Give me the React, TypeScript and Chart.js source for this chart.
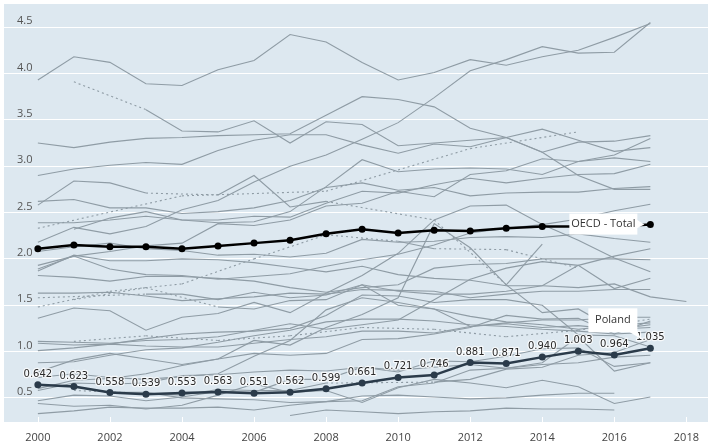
import { useEffect, useRef } from "react";
import { Chart, registerables } from "chart.js";

Chart.register(...registerables);

// Gross domestic spending on R&D, % of GDP
const YEARS = [2000, 2001, 2002, 2003, 2004, 2005, 2006, 2007, 2008, 2009, 2010, 2011, 2012, 2013, 2014, 2015, 2016, 2017, 2018];
const TICK_YEARS = [2000, 2002, 2004, 2006, 2008, 2010, 2012, 2014, 2016, 2018];
const Y_TICKS = [0.5, 1.0, 1.5, 2.0, 2.5, 3.0, 3.5, 4.0, 4.5];

const POLAND = [0.642, 0.623, 0.558, 0.539, 0.553, 0.563, 0.551, 0.562, 0.599, 0.661, 0.721, 0.746, 0.881, 0.871, 0.94, 1.003, 0.964, 1.035, null];
const OECD_TOTAL = [2.11, 2.15, 2.13, 2.13, 2.11, 2.14, 2.17, 2.2, 2.27, 2.32, 2.28, 2.31, 2.3, 2.33, 2.35, 2.35, 2.35, 2.37, null];

const AUSTRALIA = [1.48, null, 1.65, null, 1.73, null, 2.0, null, 2.26, null, 2.19, 2.11, null, 2.1, null, 1.9, null, null, null];
const AUSTRIA = [1.89, 2.03, 2.08, 2.14, 2.17, 2.38, 2.36, 2.42, 2.57, 2.6, 2.73, 2.67, 2.91, 2.95, 3.08, 3.05, 3.12, 3.3, null];
const BELGIUM = [1.93, 2.03, 1.89, 1.83, 1.82, 1.78, 1.81, 1.84, 1.92, 1.99, 2.05, 2.15, 2.28, 2.33, 2.37, 2.43, 2.52, 2.59, null];
const CANADA = [1.87, 2.04, 1.98, 1.98, 2.0, 1.99, 1.96, 1.91, 1.86, 1.92, 1.83, 1.79, 1.77, 1.71, 1.71, 1.69, 1.73, 1.59, 1.54];
const CHILE = [null, null, null, null, null, null, null, 0.31, 0.37, 0.35, 0.33, 0.35, 0.36, 0.39, 0.38, 0.38, 0.37, null, null];
const CZECHIA = [1.11, 1.1, 1.09, 1.12, 1.13, 1.16, 1.23, 1.3, 1.24, 1.29, 1.34, 1.56, 1.78, 1.9, 1.97, 1.93, 1.68, 1.79, null];
const DENMARK = [null, 2.32, 2.44, 2.51, 2.42, 2.39, 2.4, 2.51, 2.78, 3.07, 2.94, 2.97, 2.98, 2.97, 2.91, 3.05, 3.09, 3.05, null];
const ESTONIA = [0.6, 0.69, 0.71, 0.76, 0.85, 0.92, 1.12, 1.07, 1.26, 1.4, 1.58, 2.38, 2.12, 1.72, 1.42, 1.46, 1.24, 1.29, null];
const FINLAND = [3.25, 3.2, 3.26, 3.3, 3.31, 3.33, 3.34, 3.35, 3.55, 3.75, 3.72, 3.64, 3.41, 3.31, 3.15, 2.9, 2.75, 2.75, null];
const FRANCE = [2.08, 2.13, 2.17, 2.11, 2.09, 2.04, 2.05, 2.02, 2.06, 2.21, 2.18, 2.19, 2.23, 2.24, 2.23, 2.27, 2.22, 2.18, null];
const GERMANY = [2.39, 2.39, 2.42, 2.46, 2.42, 2.42, 2.46, 2.45, 2.6, 2.73, 2.71, 2.8, 2.87, 2.82, 2.87, 2.91, 2.92, 3.02, null];
const GREECE = [null, 0.58, null, 0.55, 0.53, 0.59, 0.58, 0.58, 0.66, null, null, 0.67, 0.7, 0.81, 0.83, 0.96, 0.99, 1.13, null];
const HUNGARY = [0.78, 0.91, 0.98, 0.92, 0.86, 0.92, 0.98, 0.96, 0.98, 1.13, 1.14, 1.19, 1.26, 1.39, 1.35, 1.36, 1.19, 1.33, null];
const ICELAND = [2.58, 2.84, 2.82, 2.71, null, 2.69, 2.9, 2.56, 2.62, null, null, 2.42, null, 1.72, 2.16, null, null, null, null];
const IRELAND = [1.09, 1.07, 1.08, 1.14, 1.19, 1.21, 1.22, 1.25, 1.39, 1.61, 1.6, 1.53, 1.56, 1.56, 1.5, 1.18, 1.17, 1.05, null];
const ISRAEL = [3.93, 4.18, 4.12, 3.89, 3.87, 4.04, 4.14, 4.42, 4.34, 4.12, 3.93, 4.01, 4.15, 4.09, 4.18, 4.25, 4.39, 4.54, null];
const ITALY = [1.01, 1.04, 1.08, 1.06, 1.05, 1.05, 1.09, 1.13, 1.16, 1.22, 1.22, 1.2, 1.27, 1.31, 1.34, 1.34, 1.37, 1.37, null];
const JAPAN = [2.9, 2.97, 3.01, 3.04, 3.02, 3.17, 3.28, 3.34, 3.34, 3.23, 3.14, 3.24, 3.21, 3.31, 3.4, 3.28, 3.16, 3.2, null];
const KOREA = [2.18, 2.34, 2.27, 2.35, 2.53, 2.63, 2.83, 3.0, 3.12, 3.29, 3.47, 3.74, 4.03, 4.15, 4.29, 4.22, 4.23, 4.55, null];
const LATVIA = [0.44, 0.41, 0.42, 0.38, 0.42, 0.53, 0.65, 0.56, 0.58, 0.45, 0.61, 0.7, 0.66, 0.61, 0.69, 0.62, 0.44, 0.51, null];
const LITHUANIA = [0.58, 0.66, 0.65, 0.66, 0.74, 0.75, 0.78, 0.8, 0.79, 0.83, 0.78, 0.9, 0.89, 0.95, 1.03, 1.04, 0.84, 0.88, null];
const LUXEMBOURG = [1.58, null, null, 1.62, 1.62, 1.56, 1.64, 1.58, 1.61, 1.72, 1.5, 1.46, 1.27, 1.3, 1.26, 1.28, 1.24, 1.26, null];
const MEXICO = [0.33, 0.36, 0.4, 0.39, 0.39, 0.4, 0.37, 0.42, 0.46, 0.52, 0.53, 0.51, 0.49, 0.5, 0.53, 0.55, 0.55, null, null];
const NETHERLANDS = [1.82, 1.8, 1.76, 1.81, 1.81, 1.79, 1.76, 1.69, 1.64, 1.69, 1.72, 1.9, 1.94, 1.95, 2.0, 2.0, 2.0, 1.99, null];
const NEW_ZEALAND = [null, 1.11, null, 1.17, null, 1.12, null, 1.17, null, 1.26, null, 1.24, null, 1.16, null, 1.23, null, 1.35, null];
const NORWAY = [null, 1.56, null, 1.69, null, 1.48, 1.46, 1.55, 1.56, 1.72, 1.65, 1.62, 1.62, 1.65, 1.71, 1.93, 2.03, 2.11, null];
const PORTUGAL = [0.72, 0.76, 0.72, 0.7, 0.73, 0.76, 0.95, 1.12, 1.45, 1.58, 1.53, 1.46, 1.38, 1.32, 1.29, 1.24, 1.28, 1.31, null];
const SLOVAKIA = [0.64, 0.62, 0.56, 0.56, 0.5, 0.49, 0.48, 0.45, 0.46, 0.47, 0.62, 0.66, 0.8, 0.82, 0.88, 1.16, 0.79, 0.88, null];
const SLOVENIA = [1.36, 1.47, 1.44, 1.23, 1.37, 1.41, 1.53, 1.42, 1.63, 1.82, 2.06, 2.42, 2.57, 2.58, 2.37, 2.2, 2.01, 1.86, null];
const SPAIN = [0.88, 0.89, 0.96, 1.02, 1.04, 1.1, 1.17, 1.23, 1.32, 1.35, 1.35, 1.33, 1.29, 1.27, 1.24, 1.22, 1.19, 1.21, null];
const SWEDEN = [null, 3.91, null, 3.61, 3.38, 3.37, 3.49, 3.25, 3.48, 3.45, 3.22, 3.25, 3.28, 3.31, 3.15, 3.26, 3.27, 3.33, null];
const SWITZERLAND = [2.33, null, null, null, 2.68, null, null, null, 2.73, null, null, null, 3.19, null, null, 3.37, null, null, null];
const TURKEY = [0.47, 0.53, 0.52, 0.47, 0.51, 0.57, 0.56, 0.7, 0.7, 0.83, 0.8, 0.83, 0.86, 0.82, 0.86, 0.88, 0.94, 0.96, null];
const UNITED_KINGDOM = [1.63, 1.63, 1.64, 1.6, 1.55, 1.57, 1.59, 1.63, 1.62, 1.67, 1.66, 1.65, 1.58, 1.62, 1.65, 1.65, 1.67, 1.67, null];
const UNITED_STATES = [2.62, 2.64, 2.55, 2.55, 2.49, 2.51, 2.55, 2.63, 2.77, 2.82, 2.74, 2.77, 2.68, 2.71, 2.72, 2.72, 2.76, 2.78, null];

const OTHER_COUNTRIES: [string, (number | null)[]][] = [
  ["Australia", AUSTRALIA], ["Austria", AUSTRIA], ["Belgium", BELGIUM], ["Canada", CANADA],
  ["Chile", CHILE], ["Czech Republic", CZECHIA], ["Denmark", DENMARK], ["Estonia", ESTONIA],
  ["Finland", FINLAND], ["France", FRANCE], ["Germany", GERMANY], ["Greece", GREECE],
  ["Hungary", HUNGARY], ["Iceland", ICELAND], ["Ireland", IRELAND], ["Israel", ISRAEL],
  ["Italy", ITALY], ["Japan", JAPAN], ["Korea", KOREA], ["Latvia", LATVIA],
  ["Lithuania", LITHUANIA], ["Luxembourg", LUXEMBOURG], ["Mexico", MEXICO], ["Netherlands", NETHERLANDS],
  ["New Zealand", NEW_ZEALAND], ["Norway", NORWAY], ["Portugal", PORTUGAL], ["Slovak Republic", SLOVAKIA],
  ["Slovenia", SLOVENIA], ["Spain", SPAIN], ["Sweden", SWEDEN], ["Switzerland", SWITZERLAND],
  ["Turkey", TURKEY], ["United Kingdom", UNITED_KINGDOM], ["United States", UNITED_STATES],
];

const PLOT_BG = "#dde8f0";
const GREY = "#8f9ca5";
const POLAND_COLOR = "#2b3b4a";
const FONT = "'Open Sans', sans-serif";

const toPoints = (vals: (number | null)[]) =>
  YEARS.map((yr, i) => ({ x: yr, y: vals[i] }));

// dotted where the series skips a year (p1DataIndex - 1 is the missing one)
const gapDash = (vals: (number | null)[]) => (ctx: any) =>
  vals[ctx.p1DataIndex - 1] == null ? [2, 3] : undefined;

function drawCallout(
  ctx: CanvasRenderingContext2D,
  text: string,
  box: { x: number; y: number; w: number; h: number },
  tail: [number, number][]
) {
  ctx.save();
  ctx.fillStyle = "#ffffff";
  ctx.fillRect(box.x, box.y, box.w, box.h);
  ctx.beginPath();
  ctx.moveTo(tail[0][0], tail[0][1]);
  tail.slice(1).forEach(([tx, ty]) => ctx.lineTo(tx, ty));
  ctx.closePath();
  ctx.fill();
  ctx.fillStyle = "#333333";
  ctx.font = `11px ${FONT}`;
  ctx.textAlign = "center";
  ctx.textBaseline = "middle";
  ctx.fillText(text, box.x + box.w / 2, box.y + box.h / 2);
  ctx.restore();
}

const decorPlugin = {
  id: "decor",
  beforeDraw(chart: Chart) {
    const { ctx, chartArea: a } = chart;
    ctx.save();
    ctx.fillStyle = PLOT_BG;
    ctx.fillRect(a.left, a.top, a.right - a.left, a.bottom - a.top);
    ctx.restore();
  },
  beforeDatasetsDraw(chart: Chart) {
    const { ctx, chartArea: a } = chart;
    const ys = chart.scales.y;
    const xs = chart.scales.x;
    ctx.save();
    ctx.fillStyle = "#555555";
    ctx.font = `11px ${FONT}`;
    ctx.textAlign = "left";
    ctx.textBaseline = "alphabetic";
    Y_TICKS.forEach((v) => {
      ctx.fillText(v.toFixed(1), 17, ys.getPixelForValue(v) - 3);
    });
    ctx.strokeStyle = "#ffffff";
    ctx.lineWidth = 1;
    TICK_YEARS.forEach((yr) => {
      const x = Math.round(xs.getPixelForValue(yr)) + 0.5;
      ctx.beginPath();
      ctx.moveTo(x, a.bottom - 5);
      ctx.lineTo(x, a.bottom);
      ctx.stroke();
    });
    ctx.restore();
  },
  afterDatasetsDraw(chart: Chart) {
    const { ctx } = chart;
    const xs = chart.scales.x;
    const ys = chart.scales.y;

    // value labels on Poland
    ctx.save();
    ctx.font = `10px 'DejaVu Sans', sans-serif`;
    ctx.textAlign = "center";
    ctx.textBaseline = "alphabetic";
    ctx.lineJoin = "round";
    YEARS.forEach((yr, i) => {
      const v = POLAND[i];
      if (v == null) return;
      const x = xs.getPixelForValue(yr);
      const y = ys.getPixelForValue(v) - 8;
      ctx.strokeStyle = "rgba(255,255,255,0.75)";
      ctx.lineWidth = 2.5;
      ctx.strokeText(v.toFixed(3), x, y);
      ctx.fillStyle = "#2a2a2a";
      ctx.fillText(v.toFixed(3), x, y);
    });
    ctx.restore();

    // callouts at the last points
    const last = 17;
    const ox = xs.getPixelForValue(YEARS[last]);
    const oy = ys.getPixelForValue(OECD_TOTAL[last] as number);
    drawCallout(ctx, "OECD - Total", { x: ox - 81, y: oy - 11, w: 68, h: 21 }, [
      [ox - 14, oy - 5], [ox - 6, oy], [ox - 14, oy + 4],
    ]);
    const px = xs.getPixelForValue(YEARS[last]);
    const py = ys.getPixelForValue(POLAND[last] as number);
    drawCallout(ctx, "Poland", { x: px - 62, y: py - 40, w: 49, h: 24 }, [
      [px - 22, py - 17], [px - 13, py - 17], [px - 9, py - 9],
    ]);
  },
};

export default function App() {
  const canvasRef = useRef<HTMLCanvasElement>(null);

  useEffect(() => {
    if (!canvasRef.current) return;

    const greyDatasets = OTHER_COUNTRIES.map(([name, vals]) => ({
      label: name,
      data: toPoints(vals),
      borderColor: GREY,
      borderWidth: 1.1,
      pointRadius: 0,
      spanGaps: true,
      segment: { borderDash: gapDash(vals) },
      order: 2,
    }));

    const chart = new Chart(canvasRef.current, {
      type: "line",
      data: {
        datasets: [
          {
            label: "Poland",
            data: toPoints(POLAND),
            borderColor: POLAND_COLOR,
            backgroundColor: POLAND_COLOR,
            borderWidth: 2.5,
            pointRadius: 3.5,
            pointBorderWidth: 0,
            order: 0,
          },
          {
            label: "OECD - Total",
            data: toPoints(OECD_TOTAL),
            borderColor: "#000000",
            backgroundColor: "#000000",
            borderWidth: 2.5,
            pointRadius: 3.5,
            pointBorderWidth: 0,
            order: 1,
          },
          ...greyDatasets,
        ],
      },
      options: {
        responsive: false,
        animation: false,
        layout: { padding: { left: 3, right: 0, top: 0, bottom: 0 } },
        plugins: { legend: { display: false }, tooltip: { enabled: false } },
        elements: { line: { tension: 0 } },
        scales: {
          x: {
            type: "linear",
            min: 1999.06,
            max: 2018.6,
            afterBuildTicks: (s: any) => {
              s.ticks = TICK_YEARS.map((v) => ({ value: v }));
            },
            afterFit: (s: any) => {
              s.height = 20;
            },
            grid: { display: false, drawTicks: false },
            border: { display: false },
            ticks: {
              color: "#444444",
              font: { family: FONT, size: 11 },
              padding: 9,
              maxRotation: 0,
              autoSkip: false,
              callback: (v: any) => String(v),
            },
          },
          y: {
            min: 0.24,
            max: 4.75,
            afterBuildTicks: (s: any) => {
              s.ticks = Y_TICKS.map((v) => ({ value: v }));
            },
            afterFit: (s: any) => {
              s.width = 0;
            },
            grid: { color: "#ffffff", lineWidth: 1, drawTicks: false },
            border: { display: false },
            ticks: { display: false },
          },
        },
      },
      plugins: [decorPlugin],
    });

    return () => chart.destroy();
  }, []);

  return (
    <div
      style={{
        position: "fixed",
        left: 0,
        top: 0,
        width: 712,
        height: 442,
        background: "#ffffff",
      }}
    >
      <canvas ref={canvasRef} width={712} height={442} style={{ width: 712, height: 442 }} />
    </div>
  );
}
